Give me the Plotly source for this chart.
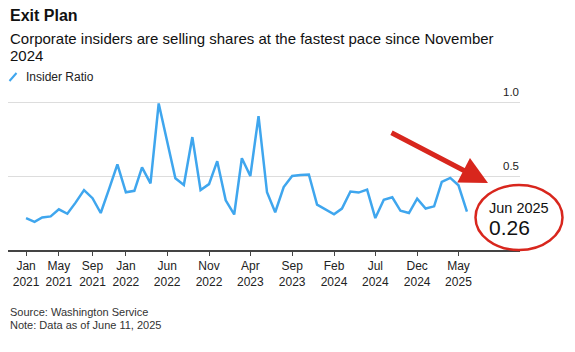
import pandas as pd
import plotly.graph_objects as go

# ---- data ----
months = pd.date_range("2021-01-01", periods=54, freq="MS")
insider_ratio = [
    0.215, 0.19, 0.22, 0.227, 0.275, 0.245, 0.32, 0.405, 0.35, 0.25, 0.415, 0.578,
    0.39, 0.40, 0.558, 0.45, 0.99, 0.74, 0.485, 0.44, 0.763, 0.405, 0.445, 0.60,
    0.336, 0.24, 0.62, 0.50, 0.905, 0.39, 0.255, 0.425, 0.50, 0.507, 0.51, 0.307,
    0.275, 0.241, 0.28, 0.395, 0.388, 0.408, 0.216, 0.34, 0.356, 0.265, 0.25, 0.347,
    0.28, 0.295, 0.46, 0.487, 0.437, 0.26,
]
x_tick_dates = ["2021-01-01", "2021-05-01", "2021-09-01", "2022-01-01", "2022-06-01",
                "2022-11-01", "2023-04-01", "2023-09-01", "2024-02-01", "2024-07-01",
                "2024-12-01", "2025-05-01"]
x_tick_labels = ["Jan<br>2021", "May<br>2021", "Sep<br>2021", "Jan<br>2022", "Jun<br>2022",
                 "Nov<br>2022", "Apr<br>2023", "Sep<br>2023", "Feb<br>2024", "Jul<br>2024",
                 "Dec<br>2024", "May<br>2025"]
y_tick_vals = [0.5, 1.0]
y_tick_labels = ["0.5", "1.0"]
series_name = "Insider Ratio"
callout_month = "Jun 2025"
callout_value = "0.26"

# ---- layout geometry ----
W, H = 575, 352
L, R, T, B = 8, 55, 99, 102
PW, PH = W - L - R, H - T - B


def fx(p):
    return (p - L) / PW


def fy(p):
    return (H - B - p) / PH


FONT = "Liberation Sans, Arial, sans-serif"
BLUE = "#3fa6ee"
RED = "#d8261d"

fig = go.Figure()
fig.add_trace(go.Scatter(
    x=months, y=insider_ratio, mode="lines", name=series_name,
    line=dict(color=BLUE, width=2.5), showlegend=False,
))

fig.update_layout(
    width=W, height=H,
    margin=dict(l=L, r=R, t=T, b=B),
    paper_bgcolor="white", plot_bgcolor="white",
    font=dict(family=FONT, color="#222"),
    showlegend=False,
    xaxis=dict(
        type="date", range=["2020-10-27", "2025-12-12"],
        tickvals=x_tick_dates, ticktext=x_tick_labels,
        showgrid=False, zeroline=False,
        showline=True, linecolor="#444", linewidth=1.5,
        ticks="outside", ticklen=4, tickcolor="#444", tickwidth=1,
        tickfont=dict(size=12, color="#222", family=FONT),
    ),
    yaxis=dict(
        range=[0, 151 / 148], side="right",
        tickvals=y_tick_vals, showticklabels=False,
        showgrid=True, gridcolor="#dddddd", gridwidth=1,
        zeroline=False, showline=False, ticks="",
    ),
)

ann = []
ann.append(dict(text="<b>Exit Plan</b>", x=fx(8), y=fy(15.5), xanchor="left", yanchor="middle",
                font=dict(size=16, color="#111", family=FONT)))
ann.append(dict(text="Corporate insiders are selling shares at the fastest pace since November",
                x=fx(8), y=fy(38.5), xanchor="left", yanchor="middle",
                font=dict(size=15, color="#111", family=FONT)))
ann.append(dict(text="2024", x=fx(8), y=fy(55.5), xanchor="left", yanchor="middle",
                font=dict(size=15, color="#111", family=FONT)))
ann.append(dict(text=series_name, x=fx(24), y=fy(77), xanchor="left", yanchor="middle",
                font=dict(size=12, color="#222", family=FONT)))
ann.append(dict(text="Source: Washington Service", x=fx(7.5), y=fy(312), xanchor="left",
                yanchor="middle", font=dict(size=11, color="#333", family=FONT)))
ann.append(dict(text="Note: Data as of June 11, 2025", x=fx(7.5), y=fy(324.5), xanchor="left",
                yanchor="middle", font=dict(size=11, color="#333", family=FONT)))
ann.append(dict(text=callout_month, x=fx(487), y=fy(207.5), xanchor="left", yanchor="middle",
                font=dict(size=14.5, color="#111", family=FONT)))
ann.append(dict(text=callout_value, x=fx(487), y=fy(227), xanchor="left", yanchor="middle",
                font=dict(size=21, color="#111", family=FONT)))
# y tick labels: right-aligned above their gridlines
for v, t in zip(y_tick_vals, y_tick_labels):
    ann.append(dict(text=t, x=1.0, xref="paper", y=v, yref="y", xanchor="right",
                    yanchor="bottom", yshift=2, xshift=1,
                    font=dict(size=11.5, color="#222", family=FONT)))
# red arrow
ann.append(dict(text="", x=fx(488), y=fy(183), ax=-98, ay=-51, showarrow=True,
                arrowhead=2, arrowsize=1.1, arrowwidth=5, arrowcolor=RED, standoff=0))
for a in ann:
    a.setdefault("xref", "paper")
    a.setdefault("yref", "paper")
    a.setdefault("showarrow", False)
fig.update_layout(annotations=ann)

shapes = [
    # legend swatch (slash)
    dict(type="line", xref="paper", yref="paper", x0=fx(9.5), y0=fy(81), x1=fx(16.5), y1=fy(73),
         line=dict(color=BLUE, width=2)),
    # red ellipse
    dict(type="circle", xref="paper", yref="paper", x0=fx(475.5), x1=fx(562.5),
         y0=fy(250), y1=fy(185), line=dict(color=RED, width=2.5)),
]
fig.update_layout(shapes=shapes)

fig.write_html("out.html")
